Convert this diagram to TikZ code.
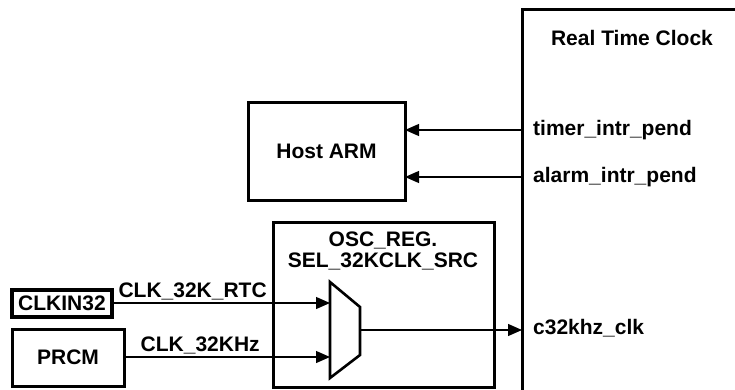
\documentclass[tikz,border=0pt]{standalone}
\usepackage{fontspec}
\setmainfont{Liberation Sans}
\usetikzlibrary{arrows.meta, positioning, calc}

\begin{document}
\begin{tikzpicture}[x=1pt, y=-1pt,
  blk/.style={draw, line width=3pt, outer sep=0pt, inner sep=0pt, font=\fontsize{21}{21}\selectfont\bfseries},
  lbl/.style={font=\fontsize{21}{21}\selectfont\bfseries, inner sep=1pt},
  arr/.style={-{Triangle[length=14pt,width=12pt]}, line width=1.2pt}
]
\useasboundingbox (0,0) rectangle (735,390);
\clip (0,0) rectangle (735,390);

% Real Time Clock (runs off the page)
\node[blk, minimum width=260pt, minimum height=420pt, anchor=north west] (rtc) at (522,10) {};
\node[lbl] (rtctitle) at (632,38) {Real Time Clock};
\node[lbl, anchor=west] (timer) at (532,130) {timer\_intr\_pend};
\node[lbl, anchor=west] (alarm) at (532,177) {alarm\_intr\_pend};
\node[lbl, anchor=west] (c32k) at (532,328) {c32khz\_clk};

% Host
\node[blk, minimum width=157pt, minimum height=97pt] (host) at (326.5,151.5) {Host ARM};

% Oscillator select
\node[blk, minimum width=221pt, minimum height=165pt] (osc) at (383.5,304.5) {};
\node[lbl, align=center] (osctitle) at (383,251) {OSC\_REG.\\SEL\_32KCLK\_SRC};
\draw[line width=2.6pt, line join=miter] (330,282) -- (360,307) -- (360,355) -- (330,378) -- cycle;
\coordinate (muxa) at (330,303);
\coordinate (muxb) at (330,357);
\coordinate (muxo) at (360,330);

% Sources
\node[blk, line width=4pt, minimum width=100pt, minimum height=27pt] (clkin) at (62,303.5) {CLKIN32};
\node[blk, minimum width=112pt, minimum height=57pt] (prcm) at (68,357.5) {PRCM};

% Arrows
\draw[arr] (clkin.east |- muxa) -- node[lbl, above=1pt, pos=0.37] (rtclbl) {CLK\_32K\_RTC} (muxa);
\draw[arr] (prcm.east |- muxb) -- node[lbl, above=1pt, pos=0.37] (khzlbl) {CLK\_32KHz} (muxb);
\draw[arr] (muxo) -- (muxo -| rtc.west);
\draw[arr] (timer.west -| rtc.west) -- (timer.west -| host.east);
\draw[arr] (alarm.west -| rtc.west) -- (alarm.west -| host.east);

\end{tikzpicture}
\end{document}
